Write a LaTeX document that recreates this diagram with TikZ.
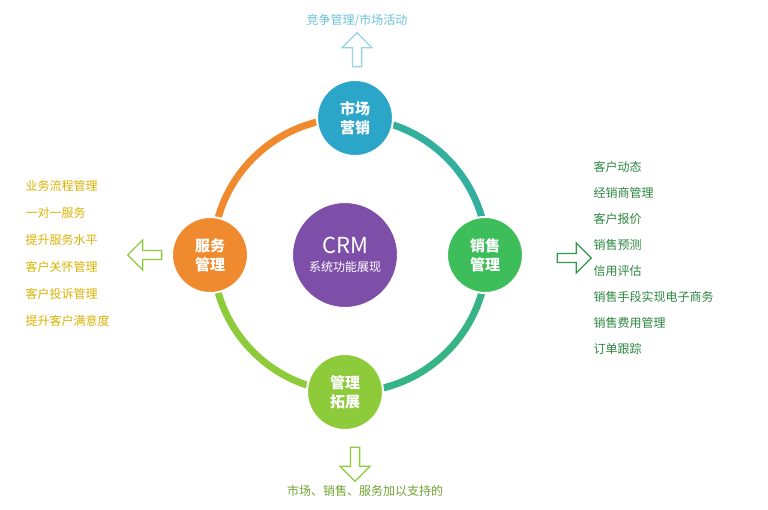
\documentclass[tikz,border=0pt]{standalone}
\usepackage{fontspec}
\setmainfont{Noto Sans CJK SC}
\usetikzlibrary{shapes.arrows}
\definecolor{teal1}{HTML}{2BA6C9}
\definecolor{green1}{HTML}{3DBE5A}
\definecolor{lime1}{HTML}{8DCB3A}
\definecolor{orange1}{HTML}{F08A2E}
\definecolor{purple1}{HTML}{7E4FA8}
\definecolor{yellow1}{HTML}{D9B300}
\begin{document}
\begin{tikzpicture}[
    x=1pt, y=-1pt,
    part/.style={circle, minimum size=76pt, text=white, align=center, font=\fontsize{15}{19}\selectfont\bfseries, draw=white, line width=2pt},
    ring/.style={line width=7pt},
    hollow/.style={single arrow, draw=#1, fill=white, line width=1.3pt, minimum height=34pt, minimum width=30pt, single arrow head extend=6pt, inner sep=2pt},
    list/.style={align=left, font=\fontsize{12}{26}\selectfont},
]
    \useasboundingbox (0,0) rectangle (768,510);
    % Ring
    \draw [ring, teal1!60!green1] (350,118) arc[start angle=270, end angle=360, radius=137];
    \draw [ring, teal1!40!green1] (487,255) arc[start angle=0, end angle=90, radius=137];
    \draw [ring, lime1] (350,392) arc[start angle=90, end angle=180, radius=137];
    \draw [ring, orange1] (213,255) arc[start angle=180, end angle=270, radius=137];

    % Place nodes
    \node [circle, fill=purple1, minimum size=106pt, text=white, align=center, draw=white, line width=2pt] (crm) at (345,255)
        {{\fontsize{22}{26}\selectfont CRM}\\[6pt]{\fontsize{12}{14}\selectfont 系统功能展现}};
    \node [part, fill=teal1]   (market)  at (355,118) {市场\\营销};
    \node [part, fill=green1]  (sales)   at (485,255) {销售\\管理};
    \node [part, fill=lime1]   (develop) at (345,392) {管理\\拓展};
    \node [part, fill=orange1] (service) at (210,255) {服务\\管理};

    % Arrows
    \node [hollow=teal1!50, rotate=90]  (up arrow)    at (357,52)  {};
    \node [hollow=green1!80!black]      (right arrow) at (572,258) {};
    \node [hollow=lime1, rotate=-90]    (down arrow)  at (355,462) {};
    \node [hollow=lime1, rotate=180]    (left arrow)  at (147,255) {};

    % Lists
    \node [list, text=teal1!70, anchor=south] (top list) at (357,30) {竞争管理/市场活动};
    \node [list, text=green1!70!black, anchor=west] (sales list) at (590,258)
        {客户动态\\经销商管理\\客户报价\\销售预测\\信用评估\\销售手段实现电子商务\\销售费用管理\\订单跟踪};
    \node [list, text=yellow1, anchor=west, font=\fontsize{12}{27}\selectfont] (service list) at (22,253)
        {业务流程管理\\一对一服务\\提升服务水平\\客户关怀管理\\客户投诉管理\\提升客户满意度};
    \node [list, text=lime1!80!black, anchor=north] (bottom list) at (365,482) {市场、销售、服务加以支持的};
\end{tikzpicture}
\end{document}
